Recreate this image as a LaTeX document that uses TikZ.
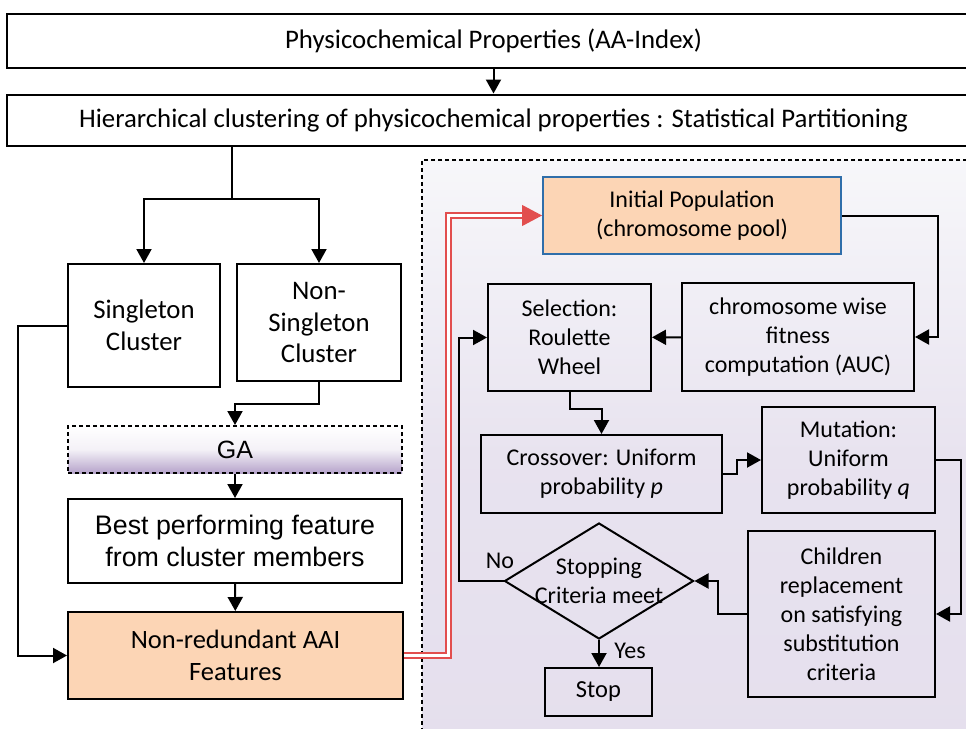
\documentclass[tikz,border=0pt]{standalone}
\usepackage{fontspec}
\setmainfont{Carlito}
\newfontfamily\arialfont{Liberation Sans}
\usetikzlibrary{shapes.geometric,arrows.meta}

\definecolor{peach}{RGB}{252,213,181}
\definecolor{ipblue}{RGB}{47,110,170}
\definecolor{lavender}{RGB}{229,223,237}
\definecolor{palebg}{RGB}{247,247,250}
\definecolor{gapurple}{RGB}{182,164,203}
\definecolor{redline}{RGB}{226,78,78}

\tikzset{
  box/.style={draw, line width=2pt, align=center, inner sep=0pt, font=\fontsize{24}{29}\selectfont},
  arr/.style={line width=2pt, -{Triangle[length=14pt,width=15pt]}},
  redpath/.style={draw=redline, line width=1.7pt, double=white, double distance=2.8pt},
  redarr/.style={redline, line width=1pt, -{Triangle[length=20pt,width=21pt]}},
  lbl/.style={font=\fontsize{24}{29}\selectfont, inner sep=0pt},
}

\begin{document}
\begin{tikzpicture}[x=1pt, y=-1pt]
  \clip (0,0) rectangle (966,728);
  \fill[white] (0,0) rectangle (966,728);

  % GA region
  \shade[top color=palebg, bottom color=lavender, middle color=lavender!85!palebg] (422,160) rectangle (995,760);
  \draw[line width=1.5pt, dash pattern=on 4pt off 3pt] (995,160) -- (422,160) -- (422,760);

  % feature selection side
  \node[box, minimum width=973pt, minimum height=54pt, font=\fontsize{26.8}{32}\selectfont] (aaindex) at (493.5,41) {Physicochemical Properties (AA-Index)};
  \node[box, minimum width=973pt, minimum height=51pt, font=\fontsize{26.8}{32}\selectfont] (hier) at (493.5,120) {Hierarchical clustering of physicochemical properties : Statistical Partitioning};
  \node[box, minimum width=152pt, minimum height=123pt, font=\fontsize{26.8}{32}\selectfont] (single) at (144,325.5) {Singleton\\Cluster};
  \node[box, minimum width=164pt, minimum height=117pt, font=\fontsize{26.8}{31.5}\selectfont] (nonsingle) at (319,322.5) {Non-\\Singleton\\Cluster};
  \node[box, dash pattern=on 4pt off 3pt, top color=white, bottom color=gapurple, middle color=white!85!gapurple, minimum width=334pt, minimum height=47pt, font=\arialfont\fontsize{25}{29}\selectfont] (ga) at (235,449.5) {GA};
  \node[box, minimum width=334pt, minimum height=84pt, font=\arialfont\fontsize{26.8}{32}\selectfont] (best) at (235,541) {Best performing feature\\from cluster members};
  \node[box, fill=peach, minimum width=335pt, minimum height=87pt, font=\fontsize{26.5}{32}\selectfont] (nr) at (235.5,655.5) {Non-redundant AAI\\Features};

  \draw[arr] (aaindex) -- (hier);
  \draw[line width=2pt] (hier.south -| 232,0) -- (232,199);
  \draw[arr] (232,199) -| (single);
  \draw[arr] (232,199) -| (nonsingle);
  \draw[arr] (nonsingle.south) -- ++(0,22) -| (ga.north);
  \draw[arr] (ga) -- (best);
  \draw[arr] (best) -- (nr);
  \draw[arr] (single.west) -- ++(-49,0) |- (nr.west);

  % GA loop
  \node[box, fill=peach, draw=ipblue, minimum width=298pt, minimum height=77pt] (ip) at (692,215.5) {Initial Population\\(chromosome pool)};
  \node[box, minimum width=163pt, minimum height=107pt] (selection) at (569.5,337.5) {Selection:\\Roulette\\Wheel};
  \node[box, minimum width=232pt, minimum height=108pt] (fitness) at (798,337) {chromosome wise\\fitness\\computation (AUC)};
  \node[box, minimum width=241pt, minimum height=78pt] (crossover) at (601.5,474) {Crossover: Uniform\\probability \textit{p}};
  \node[box, minimum width=173pt, minimum height=106pt] (mutation) at (848.5,460) {Mutation:\\Uniform\\probability \textit{q}};
  \node[box, minimum width=187pt, minimum height=166pt] (children) at (841.5,614) {Children\\replacement\\on satisfying\\substitution\\criteria};
  \node[box, shape=diamond, inner sep=-22pt, minimum width=189pt, minimum height=116pt, aspect=1.63] (stopcrit) at (599,581) {Stopping\\Criteria meet};
  \node[box, minimum width=107pt, minimum height=48pt, font=\fontsize{24.5}{29}\selectfont] (stop) at (598.5,692) {Stop};
  \node[lbl] (nolbl) at (500,561) {No};
  \node[lbl] (yeslbl) at (630,651) {Yes};

  \coordinate (redbend) at (448.5,215.5);
  \coordinate (redtip) at (525,215.5);
  \draw[redpath] (nr.east) -| (redbend) -- (redtip);
  \draw[redarr] (redtip) -- (ip.west);

  \draw[arr] (ip.east) -- ++(96,0) |- (fitness.east);
  \draw[arr] (fitness) -- (selection);
  \draw[arr] (selection.south) -- ++(0,17) -| (crossover.north);
  \draw[arr] (crossover.east) -- ++(14,0) |- (mutation.west);
  \draw[arr] (mutation.east) -- ++(25,0) |- (children.east);
  \draw[arr] (children.west) -- ++(-29,0) |- (stopcrit.east);
  \draw[arr] (stopcrit.west) -- ++(-45,0) |- (selection.west);
  \draw[arr] (stopcrit.south) -- (stopcrit.south |- stop.north);
\end{tikzpicture}
\end{document}
